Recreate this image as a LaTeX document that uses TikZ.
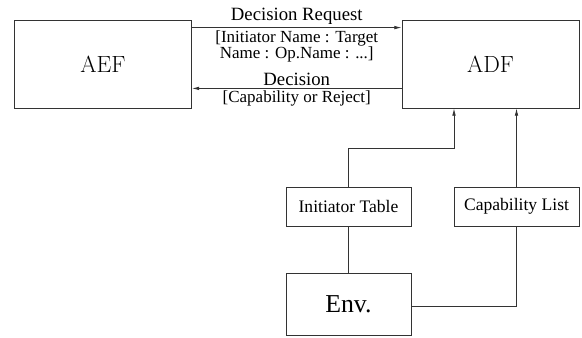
\documentclass[tikz,border=0pt]{standalone}
\usepackage{fontspec}
\newfontfamily\labfont{Liberation Serif}
\usetikzlibrary{positioning, arrows.meta}

\begin{document}
\begin{tikzpicture}[
    x=0.03cm, y=-0.03cm,
    >={Latex[length=2.2mm, width=1.1mm]},
    block/.style={rectangle, draw=black!80, line width=0.7pt, inner sep=0pt},
    bigbox/.style={block, minimum width=5.31cm, minimum height=2.64cm, font=\fontsize{20}{22}\selectfont},
    smallbox/.style={block, minimum width=3.75cm, minimum height=1.17cm, font=\labfont\fontsize{15}{16}\selectfont},
    lab/.style={font=\labfont\fontsize{16}{13}\selectfont, align=center, inner sep=2pt},
    sublab/.style={font=\labfont\fontsize{14.5}{11.5}\selectfont, align=center, inner sep=2pt},
    link/.style={line width=0.7pt, draw=black!80},
]
\useasboundingbox (0,0) rectangle (582,338);

% ---- top row ----
\node[bigbox] (aef) at (103,64) {AEF};
\node[bigbox] (adf) at (490.5,64) {ADF};

% ---- lower boxes ----
\node[smallbox] (init) at (348.5,206.5) {Initiator Table};
\node[smallbox] (cap) at (516.5,206.5) {Capability List};
\node[block, minimum width=3.75cm, minimum height=1.86cm,
    font=\labfont\fontsize{22}{24}\selectfont] (env) at (348.5,304) {Env.};

% ---- request / decision ----
\draw[link, ->] ([yshift=-0.24cm]aef.north east) -- ([yshift=-0.24cm]adf.north west)
    node[midway, lab, above] (req) {Decision Request}
    node[midway, sublab, below] (reqarg) {[Initiator Name : Target\\Name : Op.Name : ...]};
\draw[link, ->] ([yshift=0.6cm]adf.south west) -- ([yshift=0.6cm]aef.south east)
    node[midway, lab, above] (dec) {Decision}
    node[midway, sublab, below] (decarg) {[Capability or Reject]};

% ---- tables to ADF ----
\coordinate (join) at (454,148);
\draw[link, ->] (init.north) |- (join) -- (join |- adf.south);
\draw[link, ->] (cap.north) -- (cap.north |- adf.south);
\draw[link] (init.south) -- (env.north);
\draw[link] ([yshift=-0.06cm]env.east) -| (cap.south);

\end{tikzpicture}
\end{document}
